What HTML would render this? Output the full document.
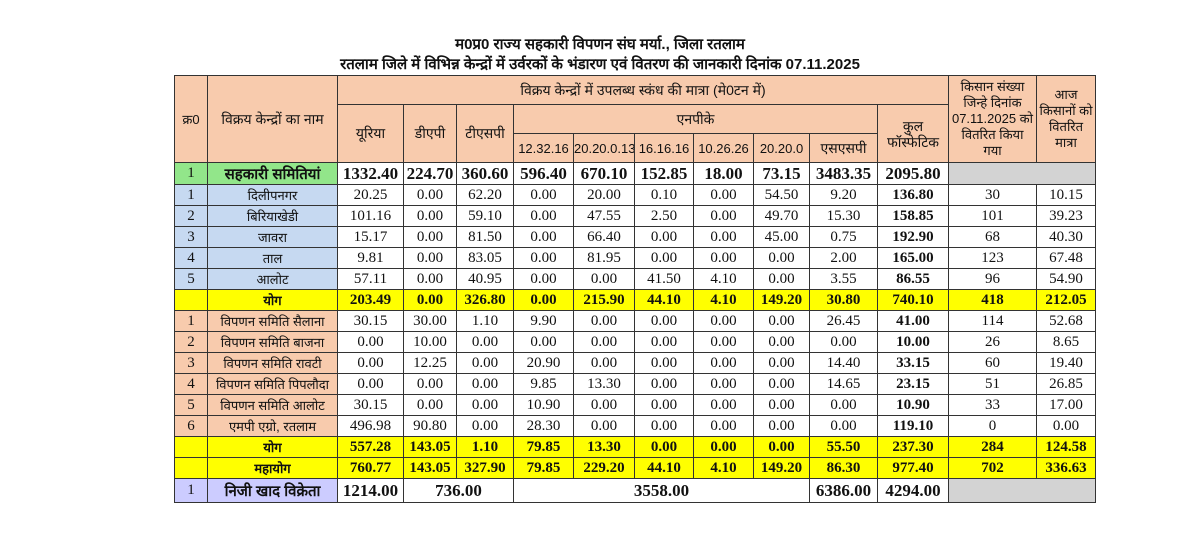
<!DOCTYPE html>
<html><head><meta charset="utf-8">
<style>
html,body{margin:0;padding:0;background:#fff;width:1200px;height:540px;overflow:hidden}
.t1,.t2{position:absolute;left:0;width:1200px;text-align:center;font-family:"Liberation Sans",sans-serif;font-weight:bold;color:#111}
.t1{top:34px;font-size:15px}
.t2{top:54px;font-size:15px}
table{position:absolute;left:174px;top:75px;border-collapse:collapse;table-layout:fixed;width:921px;font-family:"Liberation Serif",serif;color:#111}
td{border:1.5px solid #333;text-align:center;padding:0;font-size:15px;height:20px;overflow:hidden;white-space:nowrap}
.h td{background:#f8cbad;font-family:"Liberation Sans",sans-serif;font-size:13px;height:28px}
.h td.w{white-space:normal;line-height:16px;padding:0 2px}
.g td{font-weight:bold;font-size:17px;height:21px}
.g td.n{background:#92e68a}
.bl td.n,.bl td.k{background:#c6d9f1}
.pe td.n,.pe td.k{background:#f8cbad}
.y td{background:#ffff00;font-weight:bold}
.b{font-weight:bold}
.gr{background:#d3d3d3}
.l td{font-weight:bold;font-size:17px;height:23px}
.l td.n,.l td.k{background:#ccccff}
.nm{font-family:"Liberation Sans",sans-serif;font-size:13px}
</style></head><body>
<div class="t1">म0प्र0 राज्य सहकारी विपणन संघ मर्या., जिला रतलाम</div>
<div class="t2">रतलाम जिले में विभिन्न केन्द्रों में उर्वरकों के भंडारण एवं वितरण की जानकारी दिनांक 07.11.2025</div>
<table>
<colgroup><col style="width:33px"><col style="width:130px"><col style="width:66px"><col style="width:53px"><col style="width:57px"><col style="width:60px"><col style="width:61px"><col style="width:59px"><col style="width:60px"><col style="width:56px"><col style="width:68px"><col style="width:71px"><col style="width:88px"><col style="width:59px"></colgroup>
<tr class="h"><td rowspan="3">क्र0</td><td rowspan="3" style="font-size:14px">विक्रय केन्द्रों का नाम</td><td colspan="10" style="font-size:14px">विक्रय केन्द्रों में उपलब्ध स्कंध की मात्रा (मे0टन में)</td><td rowspan="3" class="w">किसान संख्या जिन्हे दिनांक 07.11.2025 को वितरित किया गया</td><td rowspan="3" class="w">आज किसानों को वितरित मात्रा</td></tr>
<tr class="h"><td rowspan="2" style="font-size:14px">यूरिया</td><td rowspan="2" style="font-size:14px">डीएपी</td><td rowspan="2" style="font-size:14px">टीएसपी</td><td colspan="6" style="font-size:14px">एनपीके</td><td rowspan="2" class="w" style="font-size:14px">कुल फॉस्फेटिक</td></tr>
<tr class="h"><td>12.32.16</td><td>20.20.0.13</td><td>16.16.16</td><td>10.26.26</td><td>20.20.0</td><td style="font-size:14px">एसएसपी</td></tr>
<tr class="g"><td class="n" style="font-size:15px;font-weight:normal">1</td><td class="n nm" style="font-size:15px">सहकारी समितियां</td><td>1332.40</td><td>224.70</td><td>360.60</td><td>596.40</td><td>670.10</td><td>152.85</td><td>18.00</td><td>73.15</td><td>3483.35</td><td>2095.80</td><td colspan="2" class="gr"></td></tr>
<tr class="bl"><td class="k">1</td><td class="n nm">दिलीपनगर</td><td>20.25</td><td>0.00</td><td>62.20</td><td>0.00</td><td>20.00</td><td>0.10</td><td>0.00</td><td>54.50</td><td>9.20</td><td class="b">136.80</td><td>30</td><td>10.15</td></tr>
<tr class="bl"><td class="k">2</td><td class="n nm">बिरियाखेडी</td><td>101.16</td><td>0.00</td><td>59.10</td><td>0.00</td><td>47.55</td><td>2.50</td><td>0.00</td><td>49.70</td><td>15.30</td><td class="b">158.85</td><td>101</td><td>39.23</td></tr>
<tr class="bl"><td class="k">3</td><td class="n nm">जावरा</td><td>15.17</td><td>0.00</td><td>81.50</td><td>0.00</td><td>66.40</td><td>0.00</td><td>0.00</td><td>45.00</td><td>0.75</td><td class="b">192.90</td><td>68</td><td>40.30</td></tr>
<tr class="bl"><td class="k">4</td><td class="n nm">ताल</td><td>9.81</td><td>0.00</td><td>83.05</td><td>0.00</td><td>81.95</td><td>0.00</td><td>0.00</td><td>0.00</td><td>2.00</td><td class="b">165.00</td><td>123</td><td>67.48</td></tr>
<tr class="bl"><td class="k">5</td><td class="n nm">आलोट</td><td>57.11</td><td>0.00</td><td>40.95</td><td>0.00</td><td>0.00</td><td>41.50</td><td>4.10</td><td>0.00</td><td>3.55</td><td class="b">86.55</td><td>96</td><td>54.90</td></tr>
<tr class="y"><td></td><td class="nm">योग</td><td>203.49</td><td>0.00</td><td>326.80</td><td>0.00</td><td>215.90</td><td>44.10</td><td>4.10</td><td>149.20</td><td>30.80</td><td>740.10</td><td>418</td><td>212.05</td></tr>
<tr class="pe"><td class="k">1</td><td class="n nm">विपणन समिति सैलाना</td><td>30.15</td><td>30.00</td><td>1.10</td><td>9.90</td><td>0.00</td><td>0.00</td><td>0.00</td><td>0.00</td><td>26.45</td><td class="b">41.00</td><td>114</td><td>52.68</td></tr>
<tr class="pe"><td class="k">2</td><td class="n nm">विपणन समिति बाजना</td><td>0.00</td><td>10.00</td><td>0.00</td><td>0.00</td><td>0.00</td><td>0.00</td><td>0.00</td><td>0.00</td><td>0.00</td><td class="b">10.00</td><td>26</td><td>8.65</td></tr>
<tr class="pe"><td class="k">3</td><td class="n nm">विपणन समिति रावटी</td><td>0.00</td><td>12.25</td><td>0.00</td><td>20.90</td><td>0.00</td><td>0.00</td><td>0.00</td><td>0.00</td><td>14.40</td><td class="b">33.15</td><td>60</td><td>19.40</td></tr>
<tr class="pe"><td class="k">4</td><td class="n nm">विपणन समिति पिपलौदा</td><td>0.00</td><td>0.00</td><td>0.00</td><td>9.85</td><td>13.30</td><td>0.00</td><td>0.00</td><td>0.00</td><td>14.65</td><td class="b">23.15</td><td>51</td><td>26.85</td></tr>
<tr class="pe"><td class="k">5</td><td class="n nm">विपणन समिति आलोट</td><td>30.15</td><td>0.00</td><td>0.00</td><td>10.90</td><td>0.00</td><td>0.00</td><td>0.00</td><td>0.00</td><td>0.00</td><td class="b">10.90</td><td>33</td><td>17.00</td></tr>
<tr class="pe"><td class="k">6</td><td class="n nm">एमपी एग्रो, रतलाम</td><td>496.98</td><td>90.80</td><td>0.00</td><td>28.30</td><td>0.00</td><td>0.00</td><td>0.00</td><td>0.00</td><td>0.00</td><td class="b">119.10</td><td>0</td><td>0.00</td></tr>
<tr class="y"><td></td><td class="nm">योग</td><td>557.28</td><td>143.05</td><td>1.10</td><td>79.85</td><td>13.30</td><td>0.00</td><td>0.00</td><td>0.00</td><td>55.50</td><td>237.30</td><td>284</td><td>124.58</td></tr>
<tr class="y"><td></td><td class="nm">महायोग</td><td>760.77</td><td>143.05</td><td>327.90</td><td>79.85</td><td>229.20</td><td>44.10</td><td>4.10</td><td>149.20</td><td>86.30</td><td>977.40</td><td>702</td><td>336.63</td></tr>
<tr class="l"><td class="k" style="font-weight:normal;font-size:15px">1</td><td class="n nm" style="font-size:15px">निजी खाद विक्रेता</td><td>1214.00</td><td colspan="2">736.00</td><td colspan="5">3558.00</td><td>6386.00</td><td>4294.00</td><td colspan="2" class="gr"></td></tr>
</table>
</body></html>
